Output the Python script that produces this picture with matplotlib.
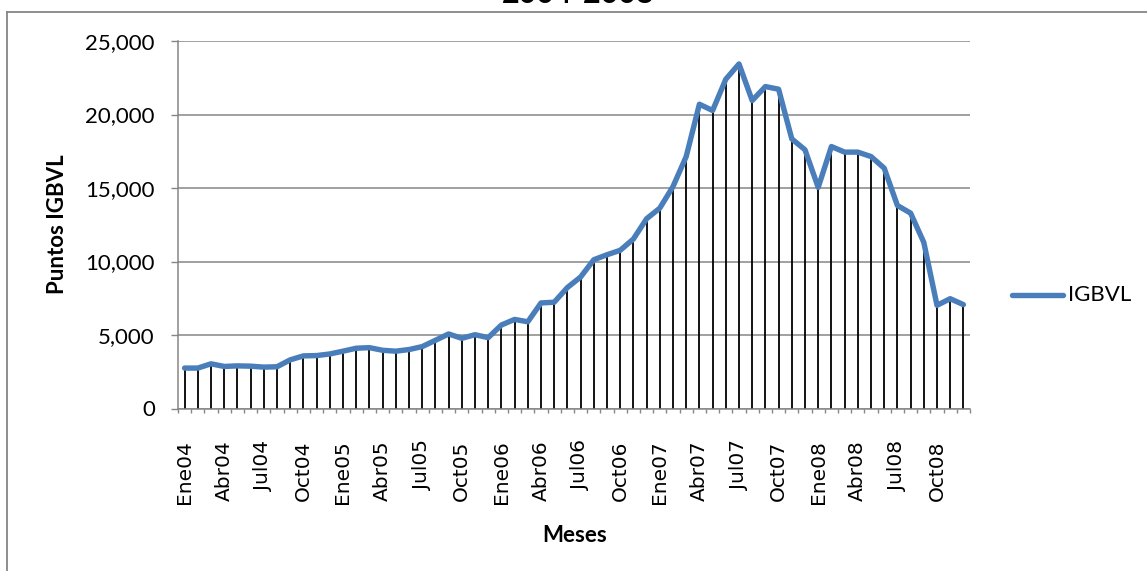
import matplotlib
matplotlib.use("Agg")
import matplotlib.pyplot as plt
from matplotlib.lines import Line2D
from matplotlib.ticker import FuncFormatter, FixedLocator

plt.rcParams['font.family'] = ['Lato', 'DejaVu Sans']

# Monthly IGBVL closing points, Jan 2004 - Dec 2008
months = [f"{m}{y:02d}" for y in range(4, 9)
          for m in ["Ene", "Feb", "Mar", "Abr", "May", "Jun",
                    "Jul", "Ago", "Set", "Oct", "Nov", "Dic"]]
igbvl = [2750, 2750, 3040, 2860, 2900, 2880, 2815, 2840, 3310, 3580, 3600, 3710,
         3900, 4100, 4140, 3960, 3900, 4010, 4210, 4640, 5070, 4775, 5020, 4820,
         5680, 6060, 5900, 7180, 7230, 8230, 8945, 10120, 10460, 10760, 11530, 12910,
         13630, 15100, 17140, 20700, 20270, 22400, 23440, 20950, 21900, 21720, 18340, 17600,
         15040, 17820, 17440, 17440, 17140, 16350, 13810, 13290, 11300, 7020, 7470, 7065]
y_ticks = [0, 5000, 10000, 15000, 20000, 25000]
label_step = 3

W, H = 1147, 571
fig = plt.figure(figsize=(W / 100, H / 100), dpi=100)
fig.patch.set_facecolor("white")

left, right, top, bottom = 178, 970, 41, 408.5
ax = fig.add_axes([left / W, (H - bottom) / H, (right - left) / W, (bottom - top) / H])

grey = "#868686"
x = list(range(len(months)))

ax.vlines(x, 0, igbvl, color="black", linewidth=1.3, zorder=2)
line, = ax.plot(x, igbvl, color="#4A7EBB", linewidth=3.9, zorder=3,
                solid_joinstyle="round", solid_capstyle="round")

ax.set_xlim(-0.5, len(months) - 0.5)
ax.set_ylim(0, 25000)

ax.yaxis.set_major_locator(FixedLocator(y_ticks))
ax.yaxis.set_major_formatter(FuncFormatter(lambda v, p: f"{int(v):,}"))
ax.grid(axis="y", color=grey, linewidth=1.1, zorder=0)
ax.tick_params(axis="y", length=4.7, width=1, color=grey, pad=12, labelsize=16)

ax.set_xticks(x[::label_step])
ax.set_xticklabels(months[::label_step], rotation=90, va="top", ha="center")
ax.set_xticks([i - 0.5 for i in range(len(months) + 1)], minor=True)
ax.tick_params(axis="x", which="major", length=0, pad=23)
ax.tick_params(axis="x", which="minor", length=3, width=1, color=grey)
for lbl in ax.get_xticklabels():
    lbl.set_fontfamily("DejaVu Sans")
    lbl.set_fontsize(14.5)

for s in ["top", "right"]:
    ax.spines[s].set_visible(False)
for s in ["left", "bottom"]:
    ax.spines[s].set_color(grey)
    ax.spines[s].set_linewidth(1.1)

# axis titles
fig.text(58 / W, 1 - 224 / H, "Puntos IGBVL", rotation=90, ha="center", va="center",
         fontsize=16, fontweight="bold")
fig.text(575 / W, 1 - 535 / H, "Meses", ha="center", va="center",
         fontsize=16, fontweight="bold")
fig.text(578 / W, 1 - 3 / H, "2004-2008", ha="center", va="baseline",
         fontsize=22, fontweight="bold")

# legend entry
fig.add_artist(Line2D([1012 / W, 1063 / W], [1 - 295 / H, 1 - 295 / H],
                      color="#4A7EBB", linewidth=3.9, solid_capstyle="round"))
fig.text(1068 / W, 1 - 295 / H, "IGBVL", ha="left", va="center", fontsize=16)

# chart-area frame
fig.add_artist(Line2D([6.5 / W, 6.5 / W], [0, 1 - 12 / H], color=grey, linewidth=1.3))
fig.add_artist(Line2D([6.5 / W, 1], [1 - 12 / H, 1 - 12 / H], color=grey, linewidth=1.3))

fig.savefig("out.png", dpi=100, facecolor="white")
